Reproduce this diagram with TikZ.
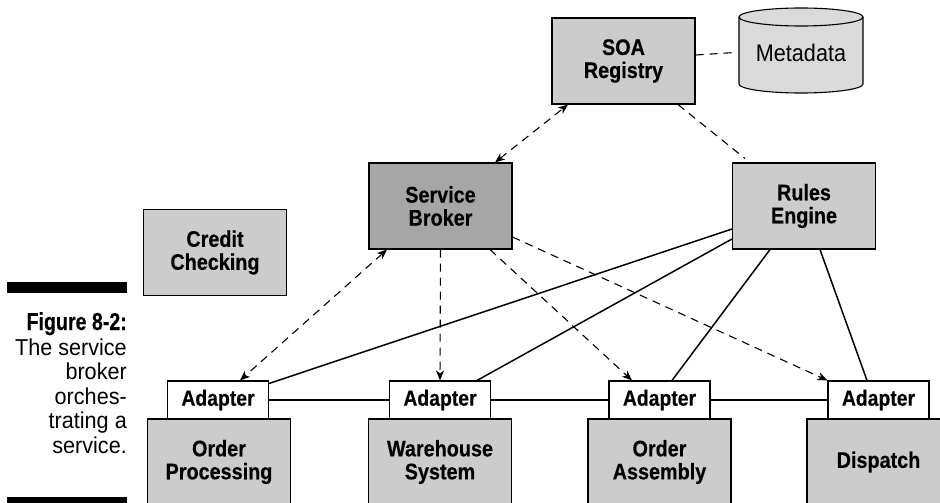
\documentclass[tikz,border=0pt]{standalone}
\usepackage{fontspec}
\setmainfont{Liberation Sans}[FakeStretch=0.88, BoldFeatures={FakeBold=0.4}]
\newfontfamily\figfont{Liberation Sans}[FakeStretch=0.8, BoldFeatures={FakeBold=0.4}]
\newfontfamily\capfont{Liberation Sans}[FakeStretch=0.94]
\newfontfamily\metafont{Liberation Sans}[FakeStretch=0.9]
\usetikzlibrary{arrows.meta}
\definecolor{boxgray}{HTML}{CCCCCC}
\definecolor{brokergray}{HTML}{A6A6A6}
\definecolor{metagray}{HTML}{DADADA}
\begin{document}
\begin{tikzpicture}[x=1pt,y=-1pt,
  >={Stealth[length=10pt,width=8pt,inset=3pt]},
  box/.style={draw=black, line width=1.1pt, fill=boxgray, minimum width=143pt, minimum height=86pt, inner sep=0pt, align=center, font=\bfseries\fontsize{22.5}{23}\selectfont},
  adapter/.style={draw=black, line width=1.1pt, fill=white, minimum width=101pt, minimum height=38pt, inner sep=0pt, font=\bfseries\fontsize{22}{23}\selectfont},
  dashline/.style={line width=1.1pt, dash pattern=on 8pt off 6pt},
  link/.style={line width=1.5pt},
  captext/.style={anchor=base east, inner sep=0pt, font=\capfont\fontsize{23}{24}\selectfont},
]
\useasboundingbox (0,0) rectangle (940,503);
\clip (0,0) rectangle (940,503);

% caption
\fill (7,282) rectangle (127,293);
\fill (7,497) rectangle (127,508);
\node[anchor=base east, inner sep=0pt, font=\figfont\bfseries\fontsize{24.5}{25}\selectfont] (fig) at (127,330) {Figure 8-2:};
\node[captext] (c1) at (127,355) {The service};
\node[captext] (c2) at (127,379.5) {broker};
\node[captext] (c3) at (127,404) {orches-};
\node[captext] (c4) at (127,428.5) {trating a};
\node[captext] (c5) at (127,453) {service.};

% metadata cylinder
\path[draw, line width=1.1pt, fill=metagray] (739,17) -- (739,84) arc[start angle=180, end angle=360, x radius=62pt, y radius=9pt] -- (863,17) arc[start angle=0, end angle=180, x radius=62pt, y radius=9pt] -- cycle;
\draw[line width=1.1pt] (739,17) arc[start angle=180, end angle=360, x radius=62pt, y radius=9pt];
\node[font=\metafont\fontsize{24}{25}\selectfont, minimum width=124pt, minimum height=60pt, inner sep=0pt] (meta) at (801,52.5) {Metadata};

% boxes
\node[box] (soa) at (623.5,61) {SOA\\Registry};
\node[box, fill=brokergray] (sb) at (440.5,206) {Service\\Broker};
\node[box] (cc) at (215,252.5) {Credit\\Checking};
\node[box] (re) at (804,206) {Rules\\Engine};

\node[box] (op) at (219,462) {Order\\Processing};
\node[box] (ws) at (440,462) {Warehouse\\System};
\node[box] (oa) at (659.5,462) {Order\\Assembly};
\node[box] (di) at (878.5,462) {Dispatch};

\node[adapter] (ad1) at (218,400) {Adapter};
\node[adapter] (ad2) at (440,400) {Adapter};
\node[adapter] (ad3) at (659.5,400) {Adapter};
\node[adapter] (ad4) at (878.5,400) {Adapter};

% dashed connectors
\draw[dashline] ([yshift=6pt]soa.east) -- ([xshift=-4pt]meta.west);
\draw[dashline, <->] ([xshift=54.5pt]sb.north) -- ([xshift=-55.5pt]soa.south);
\draw[dashline] ([xshift=54.5pt]soa.south) -- ([xshift=-59pt, yshift=4pt]re.north);
\draw[dashline, <->] ([xshift=-53.5pt]sb.south) -- ([xshift=22pt]ad1.north);
\draw[dashline, ->] (sb.south) -- (ad2.north);
\draw[dashline, ->] ([xshift=49.5pt]sb.south) -- ([xshift=-27.5pt]ad3.north);
\draw[dashline, ->] ([yshift=-31pt]sb.east) -- (ad4.north west);

% solid connectors
\draw[link] ([yshift=-23pt]re.west) -- ([yshift=-3pt]ad1.north east);
\draw[link] ([yshift=-33pt]re.west) -- ([xshift=37pt]ad2.north);
\draw[link] ([xshift=-34pt]re.south) -- ([xshift=12.5pt]ad3.north);
\draw[link] ([xshift=16pt]re.south) -- ([xshift=-11.5pt]ad4.north);
\draw[link] (ad1.east) -- (ad2.west);
\draw[link] (ad2.east) -- (ad3.west);
\draw[link] (ad3.east) -- (ad4.west);
\end{tikzpicture}
\end{document}
